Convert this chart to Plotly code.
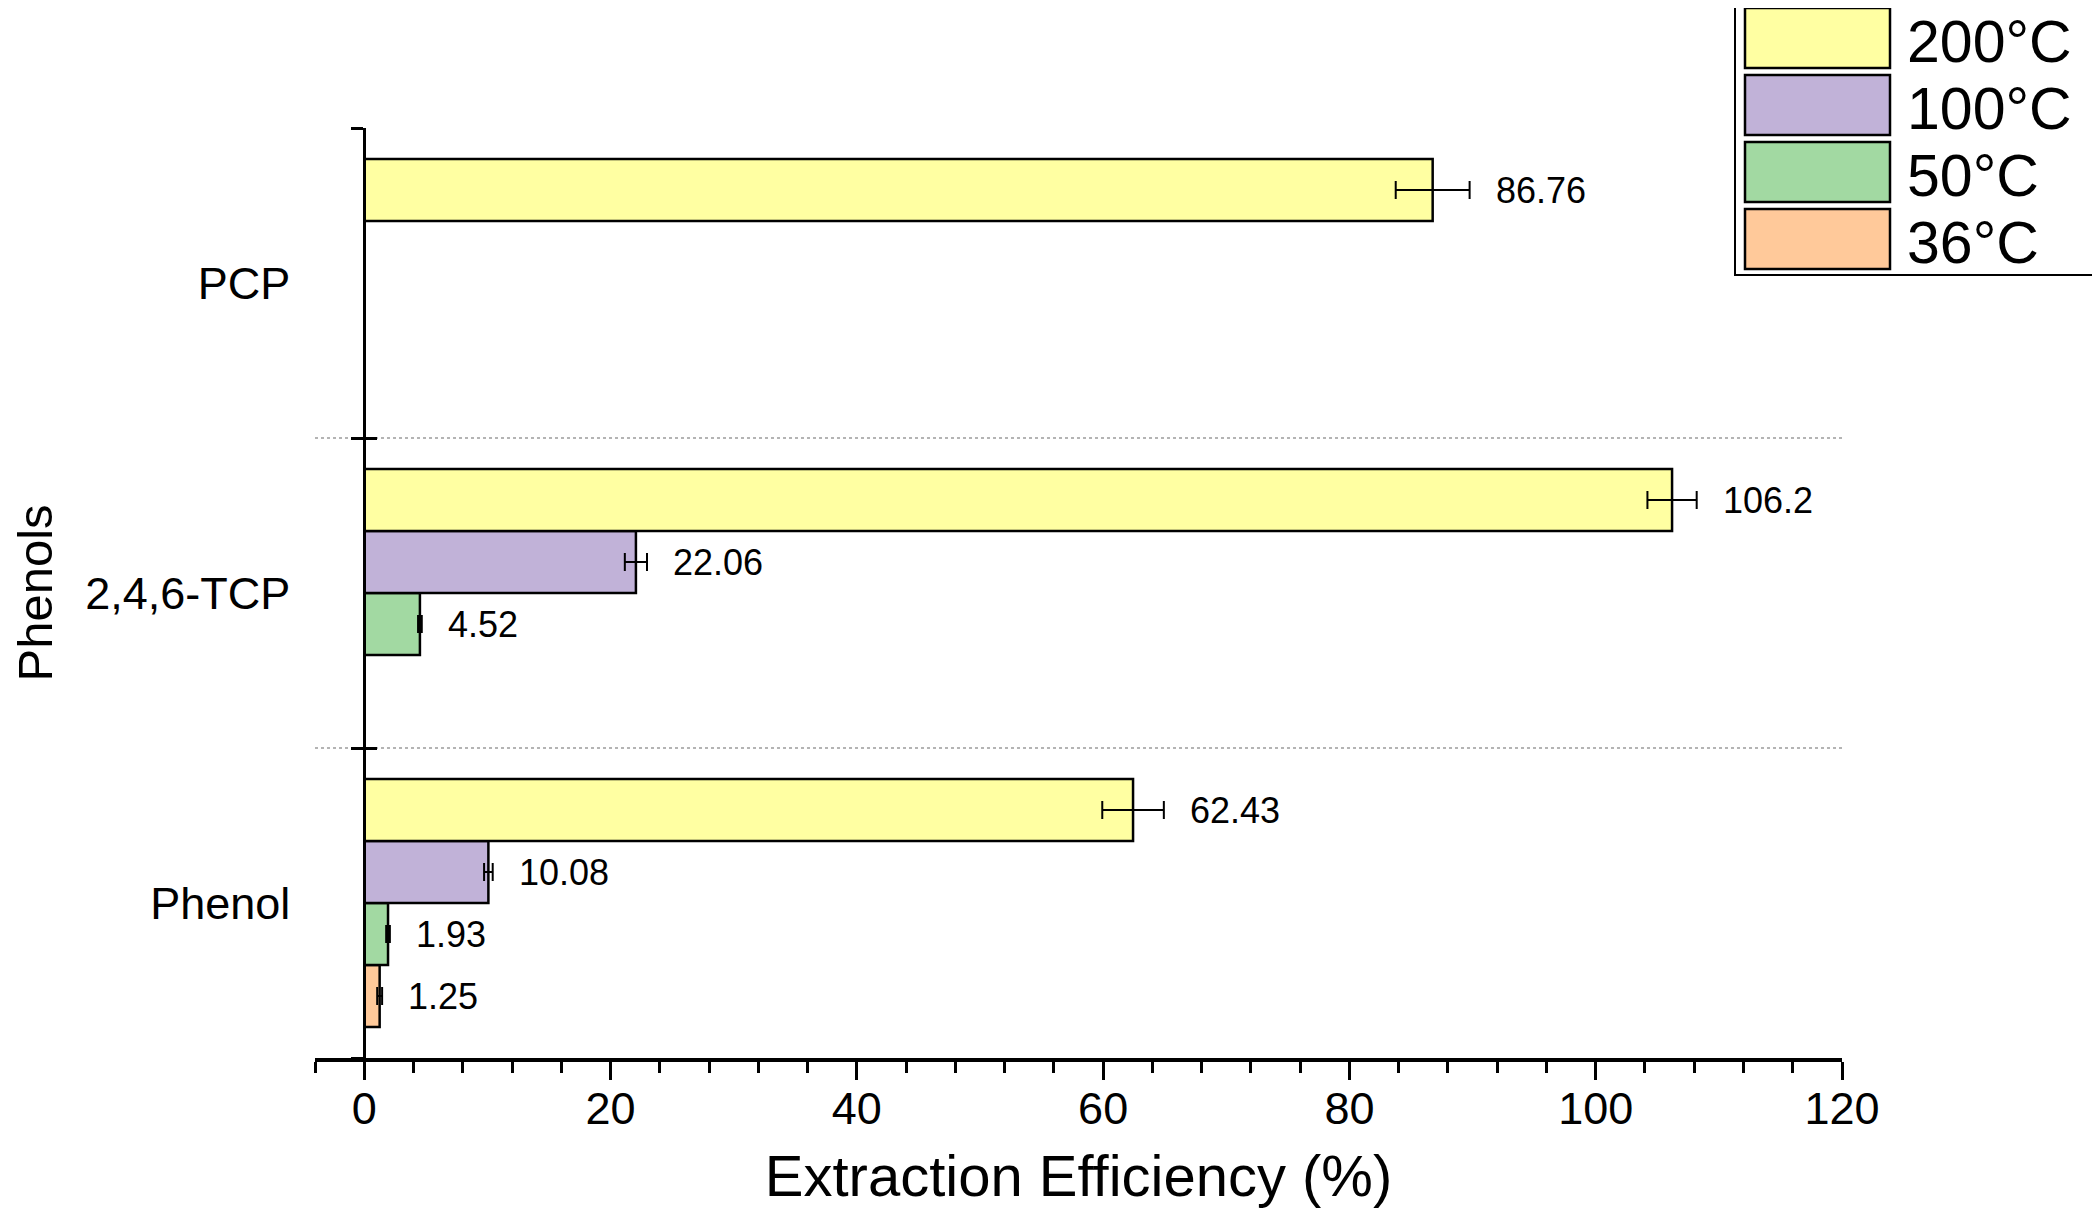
import plotly.graph_objects as go

# ---------------- data ----------------
categories = ["Phenol", "2,4,6-TCP", "PCP"]
series_names = ["36°C", "50°C", "100°C", "200°C"]
values_36 = [1.25, None, None]
values_50 = [1.93, 4.52, None]
values_100 = [10.08, 22.06, None]
values_200 = [62.43, 106.2, 86.76]
err_36 = [0.2, None, None]
err_50 = [0.15, 0.15, None]
err_100 = [0.35, 0.9, None]
err_200 = [2.5, 2.0, 3.0]
x_tick_vals = [0, 20, 40, 60, 80, 100, 120]
x_title = "Extraction Efficiency (%)"
y_title = "Phenols"

series_values = [values_36, values_50, values_100, values_200]
series_errors = [err_36, err_50, err_100, err_200]
colors = ["#FFC99A", "#A2D9A2", "#C1B2D8", "#FFFFA2"]

# ---------------- layout geometry ----------------
W, H = 2100, 1210
OFF = 8  # page body margin
L, T = 307, 120
PW, PH = 1527, 930
R, B = W - L - PW, H - T - PH
XMIN, XMAX = -4, 120
FONT = "Arial, Liberation Sans, sans-serif"
BARGAP = 0.2

def px_x(px):
    return (px - OFF - L) / PW

def px_y(py):
    return (T + PH - (py - OFF)) / PH

fig = go.Figure()
for name, vals, errs, col in zip(series_names, series_values, series_errors, colors):
    fig.add_trace(go.Bar(
        y=categories, x=vals, orientation="h", name=name,
        marker=dict(color=col, line=dict(color="black", width=2.5)),
        error_x=dict(type="data", array=errs, color="black", thickness=2, width=9),
        showlegend=False,
    ))

# helper trace so the overlay axis (boundary ticks / dotted grid) is drawn
fig.add_trace(go.Scatter(x=[None], y=[None], xaxis="x", yaxis="y2", mode="markers",
                         showlegend=False, hoverinfo="skip"))

# value labels, placed right of the error bars
n = len(series_names)
slot = (1 - BARGAP) / n
annotations = []
for i, (vals, errs) in enumerate(zip(series_values, series_errors)):
    off = -(1 - BARGAP) / 2 + slot * (i + 0.5)
    for ci, (v, e) in enumerate(zip(vals, errs)):
        if v is None:
            continue
        annotations.append(dict(
            x=v + (e or 0), y=ci + off, xref="x", yref="y",
            text=str(v), showarrow=False, xanchor="left", yanchor="middle",
            xshift=24, font=dict(family=FONT, size=36, color="black"),
        ))

# custom legend (large swatches)
shapes = []
shapes.append(dict(type="rect", xref="paper", yref="paper",
                   x0=px_x(1735), x1=px_x(2097), y0=px_y(275), y1=px_y(-2),
                   line=dict(color="black", width=2), fillcolor="white", layer="above"))
row_top = 8
row_h = 67
for k, (name, col) in enumerate(zip(series_names[::-1], colors[::-1])):
    y0 = row_top + k * row_h
    shapes.append(dict(type="rect", xref="paper", yref="paper",
                       x0=px_x(1745), x1=px_x(1890), y0=px_y(y0 + 60), y1=px_y(y0),
                       line=dict(color="black", width=2.5), fillcolor=col, layer="above"))
    annotations.append(dict(
        x=px_x(1905), y=px_y(y0 + 34), xref="paper", yref="paper",
        text=name, showarrow=False, xanchor="left", yanchor="middle",
        font=dict(family=FONT, size=59, color="black"),
    ))

ypos = (0 - XMIN) / (XMAX - XMIN)

fig.update_layout(
    width=W, height=H,
    margin=dict(l=L, r=R, t=T, b=B, autoexpand=False),
    paper_bgcolor="white", plot_bgcolor="white",
    barmode="group", bargap=BARGAP, bargroupgap=0,
    font=dict(family=FONT, color="black"),
    showlegend=False,
    shapes=shapes,
    annotations=annotations,
    xaxis=dict(
        range=[XMIN, XMAX], tickmode="array", tickvals=x_tick_vals,
        showline=True, linecolor="black", linewidth=3.5,
        ticks="outside", ticklen=18, tickwidth=3, tickcolor="black",
        minor=dict(dtick=4, tick0=0, ticks="outside", ticklen=11, tickwidth=2.5, tickcolor="black"),
        showgrid=False, zeroline=False,
        tickfont=dict(family=FONT, size=45, color="black"),
        ticklabelstandoff=-10,
        title=dict(text=x_title, font=dict(family=FONT, size=58, color="black"), standoff=24),
        automargin=False,
    ),
    yaxis=dict(
        type="category", categoryorder="array", categoryarray=categories,
        range=[-0.5, len(categories) - 0.5],
        anchor="free", position=ypos,
        showline=True, linecolor="black", linewidth=3,
        ticks="outside", tickson="boundaries", ticklen=12, tickwidth=3, tickcolor="black",
        showgrid=False, zeroline=False,
        tickfont=dict(family=FONT, size=45, color="black"),
        ticklabelstandoff=64,
        title=dict(text=y_title, font=dict(family=FONT, size=49, color="black"), standoff=108),
        automargin=False,
    ),
    yaxis2=dict(
        overlaying="y", anchor="free", position=ypos, side="left",
        range=[-0.5, len(categories) - 0.5],
        tickmode="array", tickvals=[0.5, 1.5],
        ticks="inside", ticklen=12, tickwidth=3, tickcolor="black",
        showticklabels=False, showline=False, zeroline=False,
        showgrid=True, gridcolor="#b4b4b4", griddash="dot", gridwidth=2,
        minor=dict(tickmode="array", tickvals=[-0.5, len(categories) - 0.5], ticks="inside",
                   ticklen=12, tickwidth=3, tickcolor="black", showgrid=False),
        automargin=False,
    ),
)

fig.write_html("out.html")
